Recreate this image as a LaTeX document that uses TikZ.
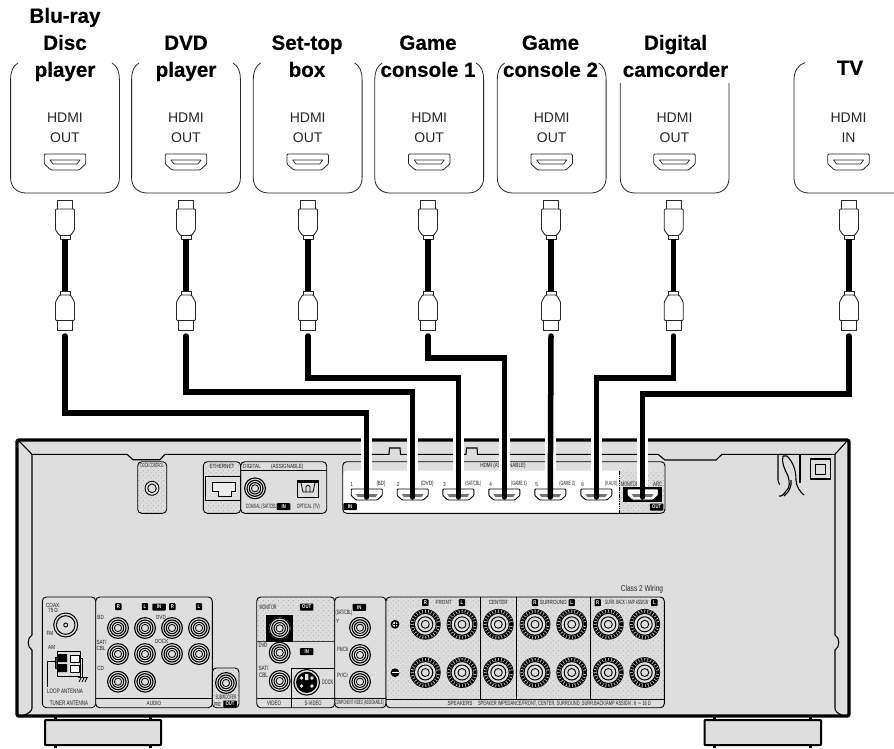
\documentclass[tikz,border=0pt]{standalone}
\usepackage{fontspec}
\usepackage{graphicx}
\setmainfont{Liberation Sans}
\newfontfamily\narfont[FakeStretch=0.77]{Liberation Sans}
\newfontfamily\lblfont[UprightFont={* Bold},FakeBold=0.4]{Liberation Sans}
\newfontfamily\symfont{DejaVu Sans}
\usetikzlibrary{patterns}
\definecolor{chassis}{HTML}{DDDEDD}
\pgfdeclarepatternformonly{ddots}{\pgfqpoint{0pt}{0pt}}{\pgfqpoint{5pt}{5pt}}{\pgfqpoint{5pt}{5pt}}{\pgfpathcircle{\pgfqpoint{1.25pt}{1.25pt}}{.5pt}\pgfpathcircle{\pgfqpoint{3.75pt}{3.75pt}}{.5pt}\pgfusepath{fill}}
\tikzset{
  devline/.style={draw=black!85,line width=.8pt},
  devlabel/.style={font=\fontsize{20.6}{27}\lblfont,align=center,anchor=south,inner sep=0pt,text depth=0pt},
  devport/.style={font=\fontsize{14}{20}\selectfont,align=center,anchor=south,inner sep=0pt,text depth=0pt,text=black!85},
  cable/.style={line width=5.5pt,line cap=round,line join=miter,draw=black},
  halo/.style={line width=11pt,draw=white},
  plugline/.style={draw=black!85,line width=.9pt,fill=white},
  panel/.style={draw=black,line width=.9pt,rounded corners=4pt},
  dotfill/.style={fill=chassis,postaction={pattern=ddots,pattern color=black!60}},
  small/.style={font=\fontsize{6}{7}\narfont,inner sep=0pt,text=black!90},
  badge/.style={fill=black,text=white,rounded corners=.8pt,font=\fontsize{5.5}{6}\bfseries\narfont,inner sep=0pt,minimum width=6.4pt,minimum height=7pt},
  badgew/.style={badge,minimum width=13.5pt},
}
\newcount\tcnt
\newcommand\tx[3]{\global\advance\tcnt by 1 \node[small] (t\the\tcnt) at (#1,#2) {#3};}
\newcommand\txw[5]{\global\advance\tcnt by 1 \node[small] (t\the\tcnt) at (#1,#2) {\resizebox{#3pt}{#4pt}{#5}};}
\newcommand\bdg[3]{\global\advance\tcnt by 1 \node[badge] (t\the\tcnt) at (#1,#2) {#3};}
\newcommand\bdgw[3]{\global\advance\tcnt by 1 \node[badgew] (t\the\tcnt) at (#1,#2) {#3};}
\newcommand\rca[2]{\begin{scope}[shift={(#1,#2)}]
  \fill[chassis] (0,0) circle (11pt);
  \draw[line width=1.1pt] (0,0) circle (10.4pt);
  \draw[line width=1.1pt] (0,0) circle (8pt);
  \draw[line width=1pt] (0,0) circle (5.7pt);
  \draw[line width=.8pt] (0,0) circle (3.6pt);
\end{scope}}
\newcommand\spk[2]{\begin{scope}[shift={(#1,#2)}]
  \fill[chassis] (0,0) circle (15.5pt);
  \draw[line width=.7pt] (0,0) circle (15pt);
  \draw[line width=3pt,dash pattern=on 2.1pt off .9pt] (0,0) circle (13.2pt);
  \draw[line width=1.1pt] (0,0) circle (11pt);
  \draw[line width=1pt] (0,0) circle (7.5pt);
  \draw[line width=.9pt] (0,0) circle (4pt);
\end{scope}}
\newcommand\dev[1]{\begin{scope}[shift={(#1,0)}]
  \draw[devline] (-47,63) .. controls (-52,66) and (-54.4,71) .. (-54.4,80) -- (-54.4,178)
     .. controls (-54.4,187) and (-48,193) .. (-39,193) -- (39,193)
     .. controls (48,193) and (54.4,187) .. (54.4,178) -- (54.4,80)
     .. controls (54.4,71) and (52,66) .. (47,63);
\end{scope}}
\newcommand\sock[1]{\begin{scope}[shift={(#1,0)}]
  \draw[devline,rounded corners=1pt] (-20.7,154) -- (20.7,154) -- (20.7,164) -- (14,170) -- (-14,170) -- (-20.7,164) -- cycle;
  \draw[devline,line width=.7pt] (-15,160) -- (15,160) -- (12,164) -- (-12,164) -- cycle;
\end{scope}}
\newcommand\plug[2]{\begin{scope}[shift={(#1,0)}]
  \draw[plugline] (-7.5,200) rectangle (7.5,209);
  \draw[plugline,rounded corners=1pt] (-9.5,209) -- (9.5,209) -- (9.5,230) -- (5.5,235.5) -- (-5.5,235.5) -- (-9.5,230) -- cycle;
  \draw[plugline] (-5,235) rectangle (5,239);
  \coordinate (pa#2) at (0,239);
  \coordinate (pb#2) at (0,291);
  \draw[cable,line cap=butt] (pa#2) -- (pb#2);
  \draw[plugline] (-5,291) rectangle (5,295);
  \draw[plugline,rounded corners=1pt] (-5.5,295) -- (5.5,295) -- (9.5,302) -- (9.5,320.5) -- (-9.5,320.5) -- (-9.5,302) -- cycle;
  \draw[plugline] (-7.5,320.5) rectangle (7.5,330);
  \coordinate (pc#2) at (0,336);
\end{scope}}
\newcommand\port[2]{\begin{scope}[shift={(#1,0)}]
  \draw[fill=white,line width=.9pt,rounded corners=.8pt] (-15.5,489) -- (15.5,489) -- (15.5,495.5) -- (10.5,500) -- (-10.5,500) -- (-15.5,495.5) -- cycle;
  \fill[black!55] (-11,494) -- (11,494) -- (9,497) -- (-9,497) -- cycle;
  \coordinate (port#2) at (0,497);
  \coordinate (hal#2) at (0,487);
\end{scope}}
\begin{document}
\begin{tikzpicture}[x=1pt,y=-1pt,line join=round]
\useasboundingbox (0,0) rectangle (894,748);
% feet
\draw[fill=chassis,line width=2pt,rounded corners=.6pt] (45,720) rectangle (161,745);
\draw[line width=3pt] (55,716) -- (55,720) (150,716) -- (150,720) (55,745) -- (55,748) (150,745) -- (150,748);
\draw[fill=chassis,line width=2pt,rounded corners=.6pt] (704.5,720) rectangle (821,745);
\draw[line width=3pt] (714,716) -- (714,720) (810,716) -- (810,720) (714,745) -- (714,748) (810,745) -- (810,748);
% chassis
\draw[fill=chassis,line width=3.4pt,rounded corners=2pt] (17,440) rectangle (849,716);
\draw[line width=1.1pt,line join=miter] (19,441) -- (32,454.3) -- (127,454.3) -- (133,459.7) -- (160,459.7) -- (165,454.3) -- (389,454.3) -- (389.5,448) -- (400,448) -- (400.5,454.3) -- (466,454.3) -- (466.5,448) -- (477,448) -- (477.5,454.3) -- (658,454.3) -- (665,460) -- (716,460) -- (722,454.3) -- (835,454.3) -- (847,441);
\draw[line width=1.1pt] (32,454.3) -- (32,635) .. controls (27,637) and (27,648) .. (32,650) -- (32,708) .. controls (32,711) and (28,714) .. (24,715);
\draw[line width=1.1pt] (835,454.3) -- (835,635) .. controls (840,637) and (840,648) .. (835,650) -- (835,708) .. controls (835,711) and (838,714) .. (842,715);
% dock control
\path[dotfill,rounded corners=4pt] (137.7,461.7) rectangle (166.7,513.3);
\draw[panel] (137.7,461.7) rectangle (166.7,513.3);
\txw{152}{466}{23}{4}{DOCK CONTROL}
\draw[fill=chassis,line width=.9pt] (152,488.3) circle (7pt);
\draw[line width=.9pt] (152,488.3) circle (4.3pt);
% ethernet + digital
\path[dotfill,rounded corners=4pt] (203.3,461.7) rectangle (240.7,513.3);
\draw[panel] (203.3,461.7) rectangle (240.7,513.3);
\draw[panel] (240.7,461.7) rectangle (326.7,513.3);
\tx{222}{466.5}{ETHERNET}
\draw[fill=chassis,line width=.9pt] (205,476.7) rectangle (240.7,500);
\draw[line width=.8pt,fill=chassis!60!white] (212.3,482.3) -- (235,482.3) -- (235,491.7) -- (231.7,491.7) -- (231.7,496) -- (218.3,496) -- (218.3,491.7) -- (212.3,491.7) -- cycle;
\draw[line width=.8pt] (240.7,470) -- (326.7,470);
\tx{252}{466.7}{DIGITAL}
\tx{287.3}{466.7}{(ASSIGNABLE)}
\rca{255}{488.3}
\txw{261.7}{506.7}{31.7}{4.5}{COAXIAL (SAT/CBL)}
\bdgw{283.7}{506.7}{IN}
\draw[fill=chassis,line width=1pt] (297.7,480) rectangle (318.3,497.3);
\fill (297.7,480) rectangle (318.3,483);
\draw[line width=.8pt] (301,483) -- (303,492) -- (313,492) -- (315,483);
\draw[line width=.8pt] (306,492) -- (306,487) .. controls (306,485) and (310,485) .. (310,487) -- (310,492);
\txw{308.3}{506.7}{23}{4.5}{OPTICAL (TV)}
% hdmi panel
\fill[white,rounded corners=4pt] (342.7,470.7) rectangle (665,513.3);
\path[dotfill] (619,470.7) -- (665,470.7) -- (665,509) -- (661,513) -- (619,513) -- cycle;
\draw[panel] (342.7,461.7) rectangle (665,513.3);
\draw[line width=.7pt,dash pattern=on 1.5pt off .8pt] (619,471) -- (619,513);
\tx{503}{466}{HDMI (ASSIGNABLE)}
\tx{351.7}{484}{1}\txw{381}{484}{9}{4.5}{(BD)}
\tx{398.3}{484}{2}\txw{427.3}{484}{13}{4.5}{(DVD)}
\tx{444.3}{484}{3}\txw{473.3}{484}{15.7}{4.5}{(SAT/CBL)}
\tx{490.7}{484}{4}\txw{519}{484}{15.7}{4.5}{(GAME 1)}
\tx{536.7}{484}{5}\txw{567.3}{484}{15.7}{4.5}{(GAME 2)}
\tx{582.7}{484}{6}\txw{611}{484}{12.5}{4.5}{(V.AUX)}
\txw{630}{484}{17.7}{4.5}{MONITOR}\txw{657.7}{484}{9}{4.5}{ARC}
\bdgw{350}{506.7}{IN}
\bdgw{656.7}{507}{OUT}
\fill (623.3,486.7) rectangle (662,502.3);
% tuner, audio
\draw[panel,fill=chassis] (42.3,597) rectangle (95.7,707.7);
\draw[panel,fill=chassis] (95.7,597) rectangle (212.3,707.7);
\draw[line width=.8pt] (95.7,698) -- (212.3,698);
\tx{53.3}{605}{COAX.}\tx{53}{610.7}{75\,Ω}\tx{50}{633.3}{FM}\tx{51.7}{647.3}{AM}
\txw{65}{691.7}{35.7}{4.5}{LOOP ANTENNA}\txw{69}{703.3}{38}{4.5}{TUNER ANTENNA}
\draw[line width=1pt] (65.7,625) circle (12pt);
\draw[line width=1pt] (65.7,625) circle (9.3pt);
\draw[line width=.9pt] (65.7,625) circle (2pt);
\draw[line width=.7pt] (47.3,686.7) -- (47.3,661.7) -- (55,661.7);
\draw[line width=.7pt] (80.7,658) -- (82.7,658) -- (82.7,677);
\draw[line width=.8pt] (78,677.5) -- (88,677.5) (79,682) -- (81,678) (82,682) -- (84,678) (85,682) -- (87,678);
\draw[fill=chassis,line width=.9pt] (57.3,651) rectangle (80.7,676);
\draw[fill=black!70,draw=black] (55,657) rectangle (57.3,668);
\fill (58,654) rectangle (67,662) (58,664) rectangle (67,672);
\draw[line width=.8pt,fill=white] (70,655) rectangle (79,662);
\draw[line width=.8pt,fill=white] (70,665) rectangle (79,672);
\bdg{118.3}{606.7}{R}\bdg{145}{606.7}{L}\bdgw{159}{607}{IN}\bdg{172.3}{606.7}{R}\bdg{199}{606.7}{L}
\tx{100.7}{617.7}{BD}\tx{101.5}{642}{SAT/}\tx{101}{648.6}{CBL}\tx{100.7}{668.7}{CD}
\tx{161}{617.7}{DVD}\tx{161.7}{641.7}{DOCK}\tx{154}{703.3}{AUDIO}
\rca{118}{628}\rca{145}{628}\rca{172}{628}\rca{199}{628}
\rca{118}{654}\rca{145}{654}\rca{172}{654}\rca{199}{654}
\rca{118}{681.7}\rca{145}{681.7}
% subwoofer
\path[dotfill,rounded corners=4pt] (212.3,668) rectangle (239,707.7);
\draw[panel] (212.3,668) rectangle (239,707.7);
\rca{226}{683}
\txw{226}{697.5}{21}{4.5}{SUBWOOFER}
\txw{217.5}{704}{7}{4}{PRE}
\bdgw{230}{704}{OUT}
% video
\path[dotfill,rounded corners=4pt] (256.7,597) -- (334.7,597) -- (334.7,641.7) -- (256.7,641.7) -- cycle;
\draw[panel] (256.7,597) rectangle (334.7,707.7);
\draw[line width=1pt,draw=black!75] (256.7,641.7) -- (334.7,641.7);
\fill (266,615) rectangle (292.7,641.7);
\txw{268}{607}{17}{4.5}{MONITOR}\bdgw{306.7}{607}{OUT}
\rca{279.7}{628.3}\rca{279.7}{652.7}\rca{279.7}{681}
\txw{263}{645.7}{9}{4.5}{DVD}\txw{263.5}{668}{10}{4.5}{SAT/}\txw{263.5}{675}{9}{4.5}{CBL}
\bdgw{306.7}{651.7}{IN}
\draw[line width=.9pt] (291.7,707.7) -- (291.7,668.3) -- (334.7,668.3);
\draw[line width=.9pt] (256.7,698.3) -- (334.7,698.3);
\draw[fill=chassis,line width=1.1pt] (306.7,682.3) circle (12.8pt);
\fill (306.7,682.3) circle (10.6pt);
\fill[chassis] (301.5,678) circle (1.9pt) (311.9,678) circle (1.9pt) (301.5,686) circle (1.9pt) (311.9,686) circle (1.9pt) (305,674) rectangle (308.4,680);
\txw{327.7}{682}{11}{4.5}{DOCK}
\txw{274}{703.3}{14}{4.5}{VIDEO}\txw{313}{703.3}{17}{4.5}{S-VIDEO}
% component
\draw[panel,fill=chassis] (334.7,597) rectangle (386,707.7);
\bdgw{359.3}{607.3}{IN}
\txw{344}{613}{16.7}{4.5}{(SAT/CBL)}
\tx{337.7}{621.7}{Y}\txw{342.7}{649}{11}{4.5}{Pb/Cb}\txw{342.7}{675.7}{11}{4.5}{Pr/Cr}
\rca{360}{627.7}\rca{360}{655}\rca{360}{681.7}
\draw[line width=.9pt] (334.7,698.3) -- (386,698.3);
\txw{359.3}{703.3}{49}{4.5}{COMPONENT VIDEO (ASSIGNABLE)}
% speakers
\path[dotfill,rounded corners=4pt] (386,597) -- (664.3,597) -- (664.3,699.3) -- (386,699.3) -- cycle;
\draw[panel] (386,597) rectangle (664.3,707.7);
\draw[line width=.9pt] (386,699.3) -- (664.3,699.3);
\draw[line width=.9pt] (480,597) -- (480,699.3) (516.7,597) -- (516.7,699.3) (590,597) -- (590,699.3);
\foreach \sx in {425.3,462,498.3,535,571.7,608.3,644.7} {\spk{\sx}{624.3}\spk{\sx}{672.5}}
\draw[fill=chassis,line width=1.6pt] (395,624.3) circle (3.6pt);
\draw[line width=.9pt] (392.5,624.3) -- (397.5,624.3) (395,621.8) -- (395,626.8);
\fill (395,672.7) circle (4.4pt);
\draw[white,line width=.9pt] (391.5,672.7) -- (398.5,672.7);
\bdg{425.3}{602.7}{R}\tx{443.7}{602.7}{FRONT}\bdg{462}{602.7}{L}
\tx{498.3}{602.7}{CENTER}
\bdg{535}{602.7}{R}\tx{553.3}{602.7}{SURROUND}\bdg{571.7}{602.7}{L}
\bdg{597.7}{602.7}{R}\txw{626.7}{602.7}{43}{4.5}{SURR. BACK / AMP ASSIGN}\bdg{654.3}{602.7}{L}
\tx{460}{703.3}{SPEAKERS}
\txw{564.4}{703.3}{172.7}{4.5}{SPEAKER IMPEDANCE/FRONT, CENTER, SURROUND, SURR.BACK/AMP ASSIGN : 6\,{\symfont ∼}\,16\,Ω}
\global\advance\tcnt by 1
\node[font=\fontsize{8.5}{10}\narfont,inner sep=0pt,anchor=east,text=black!85] (t\the\tcnt) at (663.3,589.3) {Class 2 Wiring};
% hook and square
\draw[line width=1.1pt] (778,455) -- (778,480) .. controls (778,484) and (781,486) .. (785,486.5);
\draw[line width=1.1pt] (800,455) -- (800,483);
\draw[line width=1.1pt,fill=chassis] (783,456) .. controls (781,462) and (785,470) .. (788,476) .. controls (790,482) and (790,488) .. (786,491) .. controls (784,494) and (781,497) .. (779,496);
\draw[line width=1.1pt] (787,456) .. controls (793,462) and (796,470) .. (796,480) .. controls (796,486) and (800,492) .. (804,495);
\draw[line width=1.1pt] (783,456) -- (787,456) (791,480) .. controls (792,486) and (789,492) .. (784,496);
\draw[line width=1.5pt] (810.7,459) rectangle (830.7,479);
\draw[line width=1pt] (815.7,464) rectangle (825.7,474);
% hdmi ports and cable halo
\coordinate (halx1) at (366.7,430);\coordinate (halx2) at (412.7,430);\coordinate (halx3) at (458.3,430);
\coordinate (halx4) at (504.3,430);\coordinate (halx5) at (550.3,430);\coordinate (halx6) at (596.3,430);\coordinate (halx7) at (642.7,430);
\port{366.7}{1}\port{412.7}{2}\port{458.3}{3}\port{504.3}{4}\port{550.3}{5}\port{596.3}{6}\port{642.7}{7}
\foreach \i in {1,...,7} {\draw[halo] (halx\i) -- (hal\i);}
% devices
\dev{65}\dev{186}\dev{307.7}\dev{429.2}\dev{551.7}
\draw[devline] (620.3,83) -- (620.3,178) .. controls (620.3,187) and (626,193) .. (635,193) -- (714,193) .. controls (723,193) and (729,187) .. (729,178) -- (729,83);
\draw[devline] (805,62.5) .. controls (798,65) and (794,71) .. (794,80) -- (794,178) .. controls (794,187) and (800,193) .. (809,193) -- (894,193);
\sock{65}\sock{186}\sock{307.7}\sock{429.2}\sock{551.7}\sock{674.5}\sock{848.5}
\node[devport] (o1) at (65,143) {HDMI\\OUT};
\node[devport] (o2) at (186,143) {HDMI\\OUT};
\node[devport] (o3) at (307.7,143) {HDMI\\OUT};
\node[devport] (o4) at (429.2,143) {HDMI\\OUT};
\node[devport] (o5) at (551.7,143) {HDMI\\OUT};
\node[devport] (o6) at (674.5,143) {HDMI\\OUT};
\node[devport] (o7) at (848.5,143) {HDMI\\IN};
\node[devlabel] (d1) at (65,77) {Blu-ray\\Disc\\player};
\node[devlabel] (d2) at (186,77) {DVD\\player};
\node[devlabel] (d3) at (307,77) {Set-top\\box};
\node[devlabel] (d4) at (428,77) {Game\\console 1};
\node[devlabel] (d5) at (550.5,77) {Game\\console 2};
\node[devlabel] (d6) at (675.5,77) {Digital\\camcorder};
\node[devlabel] (d7) at (850,75) {TV};
% plugs
\plug{65}{1}\plug{186}{2}\plug{308}{3}\plug{428}{4}\plug{551}{5}\plug{673.7}{6}\plug{849}{7}
% cables
\coordinate (via1) at (366.7,413);
\coordinate (via2) at (412.7,392);
\coordinate (via3) at (458.3,378);
\coordinate (via4) at (504.3,358);
\coordinate (via6) at (596.3,378);
\coordinate (via7) at (642.7,394);
\draw[cable] (pc1) |- (via1) -- (port1);
\draw[cable] (pc2) |- (via2) -- (port2);
\draw[cable] (pc3) |- (via3) -- (port3);
\draw[cable] (pc4) |- (via4) -- (port4);
\draw[cable] (pc5) -- (port5);
\draw[cable] (pc6) |- (via6) -- (port6);
\draw[cable] (pc7) |- (via7) -- (port7);
\end{tikzpicture}
\end{document}
